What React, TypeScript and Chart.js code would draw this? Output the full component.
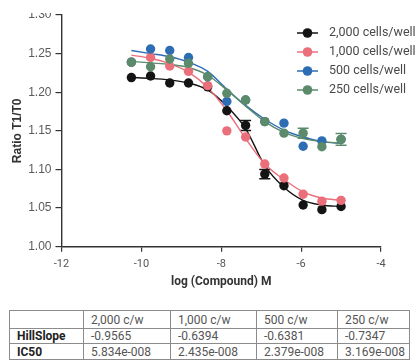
import React, { useEffect, useRef } from "react";
import { Chart, registerables } from "chart.js";

Chart.register(...registerables);

// ---- data ----
const logConc = [-10.25, -9.77, -9.29, -8.82, -8.34, -7.86, -7.39, -6.91, -6.43, -5.95, -5.48, -5.0];
const seriesLabels = ["2,000 cells/well", "1,000 cells/well", "500 cells/well", "250 cells/well"];

const ratio2000 = [1.219, 1.221, 1.212, 1.212, 1.207, 1.176, 1.157, 1.094, 1.079, 1.054, 1.048, 1.052];
const ratio1000 = [1.239, 1.245, 1.234, 1.227, 1.2085, 1.15, 1.142, 1.107, 1.089, 1.068, 1.059, 1.06];
const ratio500 = [1.239, 1.256, 1.254, 1.245, 1.22, 1.188, 1.19, 1.162, 1.16, 1.13, 1.137, 1.139];
const ratio250 = [1.2388, 1.233, 1.243, 1.2375, 1.22, 1.1986, 1.19, 1.162, 1.147, 1.147, 1.1295, 1.139];

const err2000 = [0, 0, 0, 0, 0, 0, 0.0065, 0.006, 0, 0, 0, 0];
const err1000 = [0, 0, 0, 0, 0, 0, 0, 0, 0, 0, 0, 0];
const err500 = [0, 0, 0, 0, 0, 0, 0, 0, 0, 0, 0, 0];
const err250 = [0, 0, 0, 0, 0, 0, 0, 0, 0, 0.0065, 0, 0.0075];

// fitted curves
const fit2000 = [1.219, 1.218, 1.216, 1.212, 1.203, 1.182, 1.153, 1.105, 1.077, 1.06, 1.054, 1.052];
const fit1000 = [1.248, 1.244, 1.237, 1.226, 1.206, 1.176, 1.14, 1.107, 1.087, 1.071, 1.063, 1.06];
const fit500 = [1.254, 1.25, 1.246, 1.239, 1.227, 1.204, 1.183, 1.165, 1.151, 1.142, 1.136, 1.134];
const fit250 = [1.24, 1.238, 1.236, 1.232, 1.222, 1.203, 1.182, 1.162, 1.148, 1.14, 1.136, 1.134];

const xTicks = [-12, -10, -8, -6, -4];
const yTicks = [1.0, 1.05, 1.1, 1.15, 1.2, 1.25, 1.3];

const tableHeaders = ["", "2,000 c/w", "1,000 c/w", "500 c/w", "250 c/w"];
const hillSlopes = ["-0.9565", "-0.6394", "-0.6381", "-0.7347"];
const ic50s = ["5.834e-008", "2.435e-008", "2.379e-008", "3.169e-008"];

// ---- styles ----
const colors = ["#141414", "#EB6F7B", "#2C6DB4", "#5B8B6B"];
const allRatios = [ratio2000, ratio1000, ratio500, ratio250];
const allErrs = [err2000, err1000, err500, err250];
const allFits = [fit2000, fit1000, fit500, fit250];
const drawOrder = [3, 2, 1, 0];

const toPts = (ys: number[]) => logConc.map((x, i) => ({ x, y: ys[i] }));

const errorBarPlugin = {
  id: "errorBars",
  beforeDatasetsDraw(chart: any) {
    const ctx = chart.ctx;
    const xs = chart.scales.x;
    const ys = chart.scales.y;
    chart.data.datasets.forEach((ds: any) => {
      if (!ds.errors) return;
      ctx.save();
      ctx.strokeStyle = ds.pointBackgroundColor;
      ctx.lineWidth = 1.5;
      ds.data.forEach((p: any, i: number) => {
        const e = ds.errors[i];
        if (!e) return;
        const px = xs.getPixelForValue(p.x);
        const y1 = ys.getPixelForValue(p.y + e);
        const y2 = ys.getPixelForValue(p.y - e);
        ctx.beginPath();
        ctx.moveTo(px, y1);
        ctx.lineTo(px, y2);
        ctx.moveTo(px - 5.5, y1);
        ctx.lineTo(px + 5.5, y1);
        ctx.moveTo(px - 5.5, y2);
        ctx.lineTo(px + 5.5, y2);
        ctx.stroke();
      });
      ctx.restore();
    });
  },
};

const legendPlugin = {
  id: "customLegend",
  afterDraw(chart: any) {
    const ctx = chart.ctx;
    ctx.save();
    seriesLabels.forEach((label, i) => {
      const cy = 33 + i * 19;
      ctx.strokeStyle = colors[i];
      ctx.lineWidth = 1.5;
      ctx.beginPath();
      ctx.moveTo(297, cy);
      ctx.lineTo(318, cy);
      ctx.stroke();
      ctx.fillStyle = colors[i];
      ctx.beginPath();
      ctx.arc(307.5, cy, 4.8, 0, Math.PI * 2);
      ctx.fill();
      ctx.fillStyle = "#4a4a4a";
      ctx.font = "12.5px Roboto";
      ctx.textBaseline = "middle";
      ctx.textAlign = "left";
      ctx.fillText(label, 329, cy);
    });
    ctx.restore();
  },
};

function ChartCanvas() {
  const ref = useRef<HTMLCanvasElement | null>(null);
  useEffect(() => {
    if (!ref.current) return;
    const curveSets = allFits.map((f, i) => ({
      label: seriesLabels[i] + " fit",
      data: toPts(f),
      showLine: true,
      borderColor: colors[i],
      borderWidth: 1.4,
      pointRadius: 0,
      cubicInterpolationMode: "monotone",
      fill: false,
      order: 10 + drawOrder[i],
    }));
    const pointSets = allRatios.map((r, i) => ({
      label: seriesLabels[i],
      data: toPts(r),
      errors: allErrs[i],
      showLine: false,
      pointRadius: 4.7,
      pointBackgroundColor: colors[i],
      pointBorderColor: colors[i],
      pointBorderWidth: 0,
      order: drawOrder[i],
    }));
    const chart = new Chart(ref.current, {
      type: "scatter",
      data: { datasets: [...curveSets, ...pointSets] as any },
      options: {
        animation: false,
        responsive: false,
        devicePixelRatio: 1,
        layout: { padding: { top: 15, right: 38, left: 0, bottom: 0 } },
        plugins: { legend: { display: false }, tooltip: { enabled: false } },
        scales: {
          x: {
            type: "linear",
            min: -12,
            max: -4,
            afterBuildTicks: (s: any) => {
              s.ticks = xTicks.map((v) => ({ value: v }));
            },
            afterFit: (s: any) => {
              s.height = 53.3;
            },
            ticks: {
              color: "#555",
              font: { family: "Roboto", size: 11 },
              padding: 6,
              callback: (v: any) => String(v),
            },
            grid: { drawOnChartArea: false, drawTicks: true, tickLength: 5, color: "#333", lineWidth: 1.2 },
            border: { display: true, color: "#333", width: 1.4 },
            title: {
              display: true,
              text: "log (Compound) M",
              color: "#333",
              font: { family: "Roboto", size: 12, weight: "bold" },
              padding: { top: 0, bottom: 11 },
            },
          },
          y: {
            type: "linear",
            min: 1.0,
            max: 1.3,
            afterBuildTicks: (s: any) => {
              s.ticks = yTicks.map((v) => ({ value: v }));
            },
            afterFit: (s: any) => {
              s.width = 61.5;
            },
            ticks: {
              color: "#5a5a5a",
              font: { family: "Liberation Sans", size: 12 },
              padding: 4,
              callback: (v: any) => Number(v).toFixed(2),
            },
            grid: { drawOnChartArea: false, drawTicks: true, tickLength: 6, color: "#333", lineWidth: 1.2 },
            border: { display: true, color: "#333", width: 1.4 },
            title: {
              display: true,
              text: "Ratio T1/T0",
              color: "#333",
              font: { family: "Liberation Sans", size: 12, weight: "bold" },
              padding: { top: 10, bottom: 0 },
            },
          },
        },
      },
      plugins: [errorBarPlugin, legendPlugin],
    } as any);
    return () => chart.destroy();
  }, []);
  return (
    <canvas
      ref={ref}
      width={419}
      height={300}
      style={{ position: "absolute", left: 0, top: -13, width: 419, height: 300 }}
    />
  );
}

const cellBase: React.CSSProperties = {
  border: "1px solid #8c8c8c",
  padding: "0 0 0 7px",
  textAlign: "left",
  whiteSpace: "nowrap",
};

export default function App() {
  const colWidths = [74, 87, 86, 81, 72];
  return (
    <div style={{ position: "absolute", left: 0, top: 0, width: 419, height: 361, background: "#fff", overflow: "hidden" }}>
      <div style={{ position: "absolute", left: 0, top: 13, width: 419, height: 287, overflow: "hidden" }}>
        <ChartCanvas />
      </div>
      <table
        style={{
          position: "absolute",
          left: 9,
          top: 310,
          borderCollapse: "collapse",
          tableLayout: "fixed",
          width: colWidths.reduce((a, b) => a + b, 0),
          fontFamily: "Roboto, sans-serif",
          fontSize: 12,
          color: "#555",
        }}
      >
        <colgroup>
          {colWidths.map((w, i) => (
            <col key={i} style={{ width: w }} />
          ))}
        </colgroup>
        <tbody>
          <tr style={{ height: 18 }}>
            {tableHeaders.map((h, i) => (
              <td key={i} style={cellBase}>
                {h}
              </td>
            ))}
          </tr>
          <tr style={{ height: 15 }}>
            <td style={{ ...cellBase, fontWeight: "bold", color: "#222" }}>HillSlope</td>
            {hillSlopes.map((v, i) => (
              <td key={i} style={cellBase}>
                {v}
              </td>
            ))}
          </tr>
          <tr style={{ height: 16 }}>
            <td style={{ ...cellBase, fontWeight: "bold", color: "#222" }}>IC50</td>
            {ic50s.map((v, i) => (
              <td key={i} style={cellBase}>
                {v}
              </td>
            ))}
          </tr>
        </tbody>
      </table>
    </div>
  );
}
